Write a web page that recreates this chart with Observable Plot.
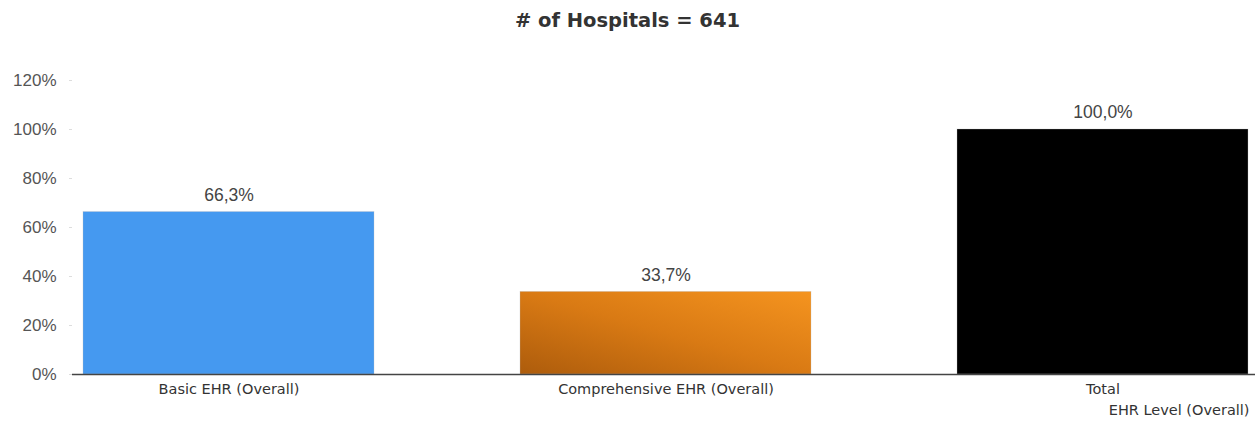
<!DOCTYPE html>
<html>
<head>
<meta charset="utf-8">
<script src="https://cdn.jsdelivr.net/npm/d3@7"></script>
<script src="https://cdn.jsdelivr.net/npm/@observablehq/plot@0.6"></script>
<style>
  body { margin: 0; background: #fff; }
  #title { height: 40px; line-height: 42px; text-align: center; font-family: "DejaVu Sans", sans-serif; font-weight: bold; font-size: 19.5px; color: #333; }
</style>
</head>
<body>
<div id="title"># of Hospitals = 641</div>
<div id="chart"></div>
<script>
const categories = ["Basic EHR (Overall)", "Comprehensive EHR (Overall)", "Total"];
const values = [0.663, 0.337, 1.0];
const barColors = ["#4599f0", "url(#orangeGrad)", "#000000"];
const yTicks = [0, 0.2, 0.4, 0.6, 0.8, 1.0, 1.2];
const xAxisLabel = "EHR Level (Overall)";

const data = categories.map((c, i) => ({category: c, value: values[i]}));
const fmt = v => (v * 100).toFixed(1).replace(".", ",") + "%";

const chart = Plot.plot({
  width: 1255,
  height: 381,
  marginTop: 40,
  marginBottom: 47,
  marginLeft: 72,
  marginRight: 0,
  x: {domain: categories, range: [82, 1249], paddingInner: 0.333, paddingOuter: 0, axis: null},
  y: {domain: [0, 1.2], axis: null},
  color: {domain: categories, range: barColors},
  marks: [
    Plot.barY(data, {x: "category", y: "value", fill: "category", stroke: "#bbb", strokeWidth: 0.5, strokeOpacity: 0.6}),
    Plot.ruleY([0], {stroke: "#444", strokeWidth: 1.6}),
    Plot.axisY({ticks: yTicks, tickFormat: d3.format(".0%"), tickSize: 3, tickPadding: 13, stroke: "#ddd", fill: "#555", fontSize: 17, fontFamily: "Liberation Sans, Arial, sans-serif", label: null}),
    Plot.axisX({tickSize: 0, tickPadding: 9, fill: "#333", fontSize: 14.5, fontFamily: "DejaVu Sans, sans-serif", label: null}),
    Plot.text(data, {x: "category", y: "value", text: d => fmt(d.value), dy: -17, lineAnchor: "middle", fill: "#444", fontSize: 17.5, fontFamily: "Liberation Sans, Arial, sans-serif"}),
    Plot.text([xAxisLabel], {frameAnchor: "bottom-right", dx: -6, dy: 36, lineAnchor: "middle", textAnchor: "end", fill: "#333", fontSize: 14.5, fontFamily: "DejaVu Sans, sans-serif"})
  ]
});

const ns = "http://www.w3.org/2000/svg";
const defs = document.createElementNS(ns, "defs");
defs.innerHTML = `<linearGradient id="orangeGrad" x1="0" y1="1" x2="1" y2="0">
  <stop offset="0" stop-color="#ad5c0c"/>
  <stop offset="0.5" stop-color="#d97a14"/>
  <stop offset="1" stop-color="#f5941f"/>
</linearGradient>`;
chart.insertBefore(defs, chart.firstChild);
document.getElementById("chart").appendChild(chart);
</script>
</body>
</html>
